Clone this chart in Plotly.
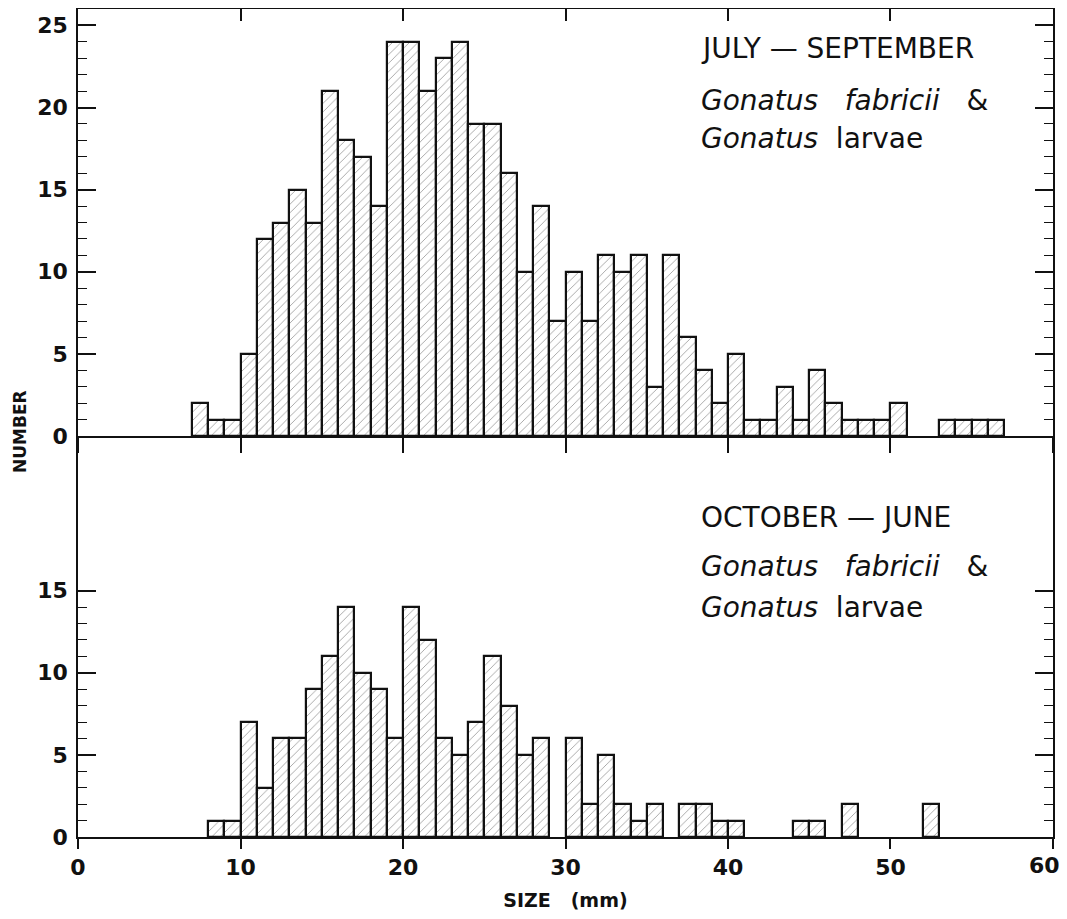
import plotly.graph_objects as go

# ---------------- data ----------------
size_bins_top = [7, 8, 9, 10, 11, 12, 13, 14, 15, 16, 17, 18, 19, 20, 21, 22, 23, 24, 25, 26,
                 27, 28, 29, 30, 31, 32, 33, 34, 35, 36, 37, 38, 39, 40, 41, 42, 43, 44, 45, 46,
                 47, 48, 49, 50, 53, 54, 55, 56]
counts_jul_sep = [2, 1, 1, 5, 12, 13, 15, 13, 21, 18, 17, 14, 24, 24, 21, 23, 24, 19, 19, 16,
                  10, 14, 7, 10, 7, 11, 10, 11, 3, 11, 6, 4, 2, 5, 1, 1, 3, 1, 4, 2,
                  1, 1, 1, 2, 1, 1, 1, 1]

size_bins_bottom = [8, 9, 10, 11, 12, 13, 14, 15, 16, 17, 18, 19, 20, 21, 22, 23, 24, 25, 26, 27,
                    28, 30, 31, 32, 33, 34, 35, 37, 38, 39, 40, 44, 45, 47, 52]
counts_oct_jun = [1, 1, 7, 3, 6, 6, 9, 11, 14, 10, 9, 6, 14, 12, 6, 5, 7, 11, 8, 5,
                  6, 6, 2, 5, 2, 1, 2, 2, 2, 1, 1, 1, 1, 2, 2]

x_ticks = [0, 10, 20, 30, 40, 50, 60]
y_ticks_top = [0, 5, 10, 15, 20, 25]
y_ticks_bottom = [0, 5, 10, 15]
y_minor_top = [v for v in range(1, 26) if v % 5]
y_minor_bottom = [v for v in range(1, 15) if v % 5]

# ---------------- styles ----------------
INK = "#111111"
LBL_FONT = dict(family="DejaVu Sans", size=22, color=INK, weight="bold")
TXT_FONT = dict(family="DejaVu Sans", size=28, color=INK)
NB = "\u00a0"

# the last x label sits at the page edge: it is drawn as an annotation nudged inwards
x_ticktext = [str(v) for v in x_ticks]
x_ticktext[-1] = ""

bar_style = dict(
    width=1, offset=0,
    marker=dict(color="white",
                line=dict(color=INK, width=2.2),
                pattern=dict(shape="/", size=6, solidity=0.14, fgcolor="#3a3a3a",
                             bgcolor="white", fillmode="overlay")),
    showlegend=False,
)

fig = go.Figure()
fig.add_trace(go.Bar(x=size_bins_top, y=counts_jul_sep, xaxis="x", yaxis="y", **bar_style))
fig.add_trace(go.Bar(x=size_bins_bottom, y=counts_oct_jun, xaxis="x2", yaxis="y2", **bar_style))

# the page body has an 8 px margin, so the figure is laid out in its own coordinates
W, H = 1059, 903
L, R, T, B = 70, 14, 1, 74
plot_h = H - T - B
split = (829 - 428) / plot_h  # fraction of height for the bottom panel
px_per_unit = (428 - T) / 26

common_x = dict(range=[-0.001, 60.001], tickvals=x_ticks, showgrid=False, zeroline=False,
                linecolor=INK, linewidth=1.7, tickcolor=INK, tickwidth=1.6,
                automargin=False, ticklabeloverflow="allow")
common_y = dict(showgrid=False, zeroline=False, linecolor=INK, linewidth=1.7,
                tickcolor=INK, tickwidth=1.5, ticks="inside", ticklen=18,
                mirror="ticks", showline=True, tickfont=LBL_FONT, automargin=False,
                ticklabelstandoff=4)

fig.update_layout(
    width=W, height=H,
    margin=dict(l=L, r=R, t=T, b=B),
    paper_bgcolor="white", plot_bgcolor="white",
    bargap=0,
    xaxis=dict(common_x, anchor="y", showticklabels=False, ticks="outside", ticklen=15,
               showline=True),
    xaxis3=dict(common_x, anchor="y", overlaying="x", side="top", matches="x",
                showticklabels=False, ticks="inside", ticklen=12, showline=True),
    xaxis2=dict(common_x, anchor="y2", ticks="outside", ticklen=10, showline=True,
                ticktext=x_ticktext,
                tickfont=LBL_FONT, ticklabelstandoff=0,
                title=dict(text="SIZE" + NB * 3 + "(mm)",
                           font=dict(family="DejaVu Sans", size=19, color=INK, weight="bold"),
                           standoff=18)),
    yaxis=dict(common_y, domain=[split, 1], range=[0, 26], tickvals=y_ticks_top,
               minor=dict(tickvals=y_minor_top, ticks="inside", ticklen=9,
                          tickcolor=INK, tickwidth=1.3)),
    yaxis2=dict(common_y, domain=[0, split], range=[0, (829 - 428) / px_per_unit],
                tickvals=y_ticks_bottom,
                minor=dict(tickvals=y_minor_bottom, ticks="inside", ticklen=9,
                           tickcolor=INK, tickwidth=1.3)),
)

# invisible trace so that the top frame axis (xaxis3) is drawn
fig.add_trace(go.Scatter(x=[0, 60], y=[None, None], xaxis="x3", yaxis="y",
                         mode="lines", showlegend=False, hoverinfo="skip"))

fig.add_annotation(text=str(x_ticks[-1]), x=x_ticks[-1], y=0, xref="x2", yref="y2",
                   xanchor="center", yanchor="top", xshift=-8, yshift=-14,
                   showarrow=False, font=LBL_FONT)

sp = NB * 3
annots = [
    ("JULY — SEPTEMBER", "x", "y", 23.6),
    (f"<i>Gonatus</i>{sp}<i>fabricii</i>{sp}&", "x", "y", 20.4),
    (f"<i>Gonatus</i>{NB*2}larvae", "x", "y", 18.1),
    ("OCTOBER — JUNE", "x2", "y2", 19.45),
    (f"<i>Gonatus</i>{sp}<i>fabricii</i>{sp}&", "x2", "y2", 16.45),
    (f"<i>Gonatus</i>{NB*2}larvae", "x2", "y2", 14.0),
]
for text, xr, yr, yv in annots:
    fig.add_annotation(text=text, x=38.2, y=yv, xref=xr, yref=yr, xanchor="left",
                       yanchor="middle", showarrow=False, font=TXT_FONT)

fig.add_annotation(text="NUMBER", x=0, y=split, xref="paper", yref="paper",
                   xshift=-58, yshift=4, textangle=-90, showarrow=False, xanchor="center",
                   yanchor="middle",
                   font=dict(family="DejaVu Sans", size=17, color=INK, weight="bold"))

fig.write_html("out.html")
